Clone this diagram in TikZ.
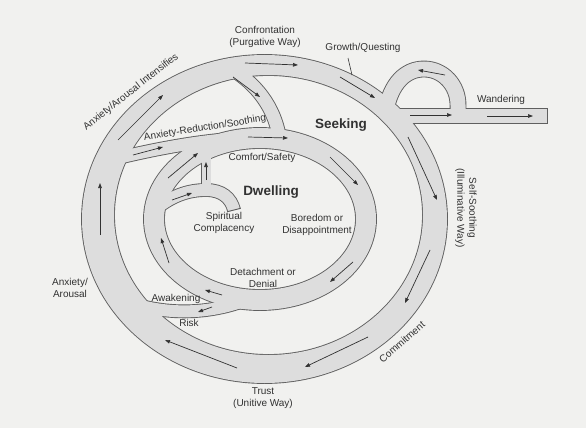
\documentclass[tikz,border=0pt]{standalone}
\usepackage{fontspec}
\setmainfont{Liberation Sans}
\usepackage{tikz}
\usetikzlibrary{arrows.meta}
\definecolor{paper}{RGB}{241,241,239}
\definecolor{band}{RGB}{221,221,221}
\definecolor{rimgray}{RGB}{95,95,95}
\definecolor{ink}{RGB}{50,50,50}

% every band is drawn twice: once as dark rim, once as grey core
\newcommand{\ringbands}[1]{%
  % middle ring
  \draw[#1=20pt] (260,219) ellipse (106 and 81);
  % wandering tail and loop
  \draw[#1=14pt] (392,116) -- (547,116);
  \draw[#1=15pt] (458,118) -- (458,105) .. controls (458,85) and (443,69) .. (424,69) .. controls (405,69) and (391,84) .. (386,110);
  % confrontation branch
  \draw[#1=13pt] (230,68) .. controls (250,80) and (272,100) .. (279,135);
  % anxiety-reduction branch
  \draw[#1=12pt] (110,160) .. controls (150,150) and (200,140) .. (245,138);
  % stem and arch
  \draw[#1=9pt] (206,189) -- (206,152);
  \draw[#1=12pt] (157,208) .. controls (172,196) and (188,190) .. (206,190) .. controls (222,190) and (231,198) .. (234,210);
  % awakening branch
  \draw[#1=12pt] (246,300) .. controls (215,312) and (170,318) .. (122,300);
}

\begin{document}
\begin{tikzpicture}[x=1pt,y=-1pt,
  rim/.style={draw=rimgray,line width=#1+1.8pt},
  core/.style={draw=band,line width=#1},
  flow/.style={draw=ink,line width=0.7pt,-{Triangle[length=5pt,width=3.6pt]}},
  lbl/.style={text=ink,font=\fontsize{10}{12}\selectfont,align=center,inner sep=1pt},
  big/.style={text=ink,font=\fontsize{13.5}{16}\selectfont\bfseries}]
\useasboundingbox (0,0) rectangle (586,428);
\fill[paper] (0,0) rectangle (586,428);

% outer ring and branches
\fill[rimgray,even odd rule] (264.5,219) ellipse (183.4 and 164.9) (268.5,215) ellipse (153.6 and 139.1);
\ringbands{rim}
\fill[band,even odd rule] (264.5,219) ellipse (182.5 and 164) (268.5,215) ellipse (154.5 and 140);
\ringbands{core}
% cut ends
\draw[rimgray,line width=0.9pt] (547.4,108.1) -- (547.4,123.9);
\draw[rimgray,line width=0.9pt] (227.3,211.7) -- (240.7,208.3);

% flow arrows, outer ring
\draw[flow] (100,235) -- (100,183);
\draw[flow] (118,140) -- (163,95);
\draw[flow] (245,63) -- (298,65);
\draw[flow] (340,77) -- (375,98);
\draw[flow] (408,137) -- (437,200);
\draw[flow] (430,250) -- (405,303);
\draw[flow] (368,337) -- (305,367);
\draw[flow] (237,368) -- (165,340);
% wandering
\draw[flow] (410,115) -- (452,115);
\draw[flow] (487,116) -- (533,116);
\draw[flow] (445,75) -- (418,70);
% middle ring and branches
\draw[flow] (248,137) -- (288,138);
\draw[flow] (330,157) -- (358,185);
\draw[flow] (353,262) -- (330,282);
\draw[flow] (222,295) -- (205,290);
\draw[flow] (169,263) -- (161,238);
\draw[flow] (168,178) -- (198,153);
\draw[flow] (233,77) -- (260,97);
\draw[flow] (133,155) -- (163,147);
\draw[flow] (206,180) -- (206,162);
\draw[flow] (172,200) -- (192,193);
\draw[flow] (212,307) -- (198,312);

% labels
\node[lbl] (confront) at (265,36.5) {Confrontation\\(Purgative Way)};
\node[lbl] (growth) at (363,48) {Growth/Questing};
\coordinate (gqa) at (348,58);
\coordinate (gqb) at (352,75);
\draw[ink,line width=0.6pt] (gqa) -- (gqb);
\node[lbl] (wander) at (501,100) {Wandering};
\node[big] (seeking) at (341,125) {Seeking};
\node[lbl,rotate=-90] (selfsooth) at (466,208) {Self-Soothing\\(Illuminative Way)};
\node[lbl,rotate=41] (commit) at (402,342) {Commitment};
\node[lbl] (trust) at (263,398.5) {Trust\\(Unitive Way)};
\node[lbl] (arousal) at (70,288) {Anxiety/\\Arousal};
\node[lbl,rotate=38] (intensify) at (131,92) {Anxiety/Arousal Intensifies};
\node[lbl,rotate=9] (reduce) at (205,128) {Anxiety-Reduction/Soothing};
\node[lbl] (comfort) at (262,158) {Comfort/Safety};
\node[big] (dwell) at (271,192) {Dwelling};
\node[lbl] (complacent) at (224,223) {Spiritual\\Complacency};
\node[lbl] (boredom) at (317,225) {Boredom or\\Disappointment};
\node[lbl] (detach) at (263,278) {Detachment or\\Denial};
\node[lbl] (awaken) at (176,299) {Awakening};
\node[lbl] (risk) at (189,323) {Risk};
\end{tikzpicture}
\end{document}
